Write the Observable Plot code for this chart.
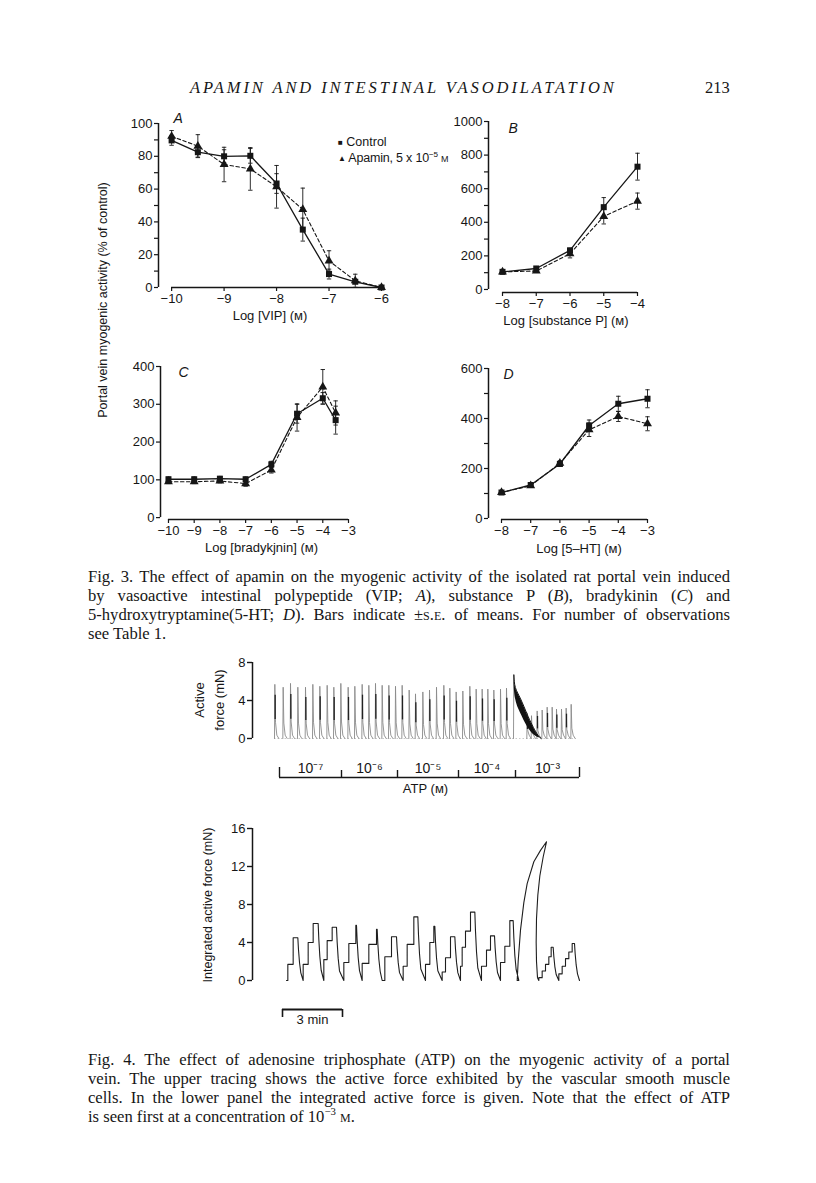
<!DOCTYPE html>
<html><head><meta charset="utf-8">
<script src="https://cdn.jsdelivr.net/npm/d3@7"></script>
<script src="https://cdn.jsdelivr.net/npm/@observablehq/plot@0.6"></script>
<style>
body{margin:0;background:#fff;}
#page{position:relative;width:816px;height:1183px;background:#fff;overflow:hidden;color:#161616;}
.abs{position:absolute;}
.serif{font-family:"Liberation Serif","DejaVu Serif",serif;}
.sans{font-family:"Liberation Sans",Arial,sans-serif;}
.cap{position:absolute;left:88px;width:642px;font-size:16.6px;line-height:19px;height:19px;text-align:justify;text-align-last:justify;white-space:nowrap;font-family:"Liberation Serif","DejaVu Serif",serif;}
.rot{position:absolute;transform:translate(-50%,-50%) rotate(-90deg);white-space:nowrap;font-family:"Liberation Sans",Arial,sans-serif;font-size:12.5px;line-height:20px;text-align:center;}
.sc{font-variant:small-caps;}
sup{font-size:0.65em;line-height:0;}
</style></head>
<body><div id="page"></div>
<script>
// ---------- Fig. 3 data ----------
const aX = [-10, -9.5, -9, -8.5, -8, -7.5, -7, -6.5, -6];
const aCtrl = [89.7, 82.5, 80, 80.3, 63.4, 35.3, 8.2, 3.5, 0];
const aCtrlErr = [3, 3, 4, 4.5, 6, 7, 3, 1, 0];
const aApa = [92.2, 86.2, 75, 72.3, 61.4, 47.6, 16.2, 4.1, 0];
const aApaErr = [3.5, 7, 10.5, 13, 13, 13, 6.2, 4, 0];

const bX = [-8, -7, -6, -5, -4];
const bCtrl = [105, 125, 233, 490, 731];
const bCtrlErr = [8, 8, 12, 57, 80];
const bApa = [105, 110, 213, 435, 526];
const bApaErr = [6, 8, 25, 45, 48];

const cX = [-10, -9, -8, -7, -6, -5, -4, -3.5];
const cCtrl = [101.5, 101.5, 103, 101.5, 141, 275, 316, 258];
const cCtrlErr = [6, 6, 6, 6, 8, 25, 15, 37];
const cApa = [95, 95, 97, 90, 126, 265, 346, 277];
const cApaErr = [5, 5, 5, 7, 8, 36, 46, 32];

const dX = [-8, -7, -6, -5, -4, -3];
const dCtrl = [104, 134, 218, 372, 459, 479];
const dCtrlErr = [5, 6, 10, 22, 30, 36];
const dApa = [104, 131, 221, 355, 408, 379];
const dApaErr = [5, 6, 10, 27, 20, 28];

// ---------- Fig. 4 data (time in s) ----------
const atpSpikeT = [1,26,48,70,93,115,136,158,178,199,221,241,263,283,303,323,343,363,383,404,423,445,465,486,508,526,545,565,586,605,623,640,658,678,696,718,758,771,788,803,818,833,846,861,875,890];
const atpSpikeH = [5.7,5.4,5.8,5.4,5.4,5.7,5.5,5.6,5.4,5.8,5.4,5.5,5.7,5.6,5.8,5.6,5.6,5.5,5.6,5.1,4.7,4.9,5.1,5.4,5.6,5.3,4.9,5.0,5.5,5.2,5.2,5.2,5.1,5.2,5.3,6.7,2.7,2.4,2.9,3.0,3.3,3.3,3.1,3.1,3.2,3.6];
const atpBandT = [718, 720, 738, 758, 773, 788, 800];
const atpBandHi = [6.7, 5.3, 4.3, 2.5, 1.4, 0.4, 0];
const atpBandLo = [6.7, 4.0, 2.7, 1.2, 0.5, 0.1, 0];
const atpConcEdges = [15, 201, 369, 552, 723, 915];
const atpConcLabels = ["10⁻⁷", "10⁻⁶", "10⁻⁵", "10⁻⁴", "10⁻³"];

const intStepT = [[40,56],[86,101,116],[148,158,173],[208,223,244],[263,283,306],[331,351],[386,398,418],[453,466,478],[503,513,528],[558,563,573,588],[621,636,648],[678,691,706],[],[793,803,813,823,830],[853,863,873,883,893]];
const intStepV = [[1.7,4.5],[1.7,4.0,6.0],[2.2,4.2,5.6],[1.9,3.9,5.8],[1.8,3.8,5.4],[2.5,4.6],[1.5,3.8,6.7],[1.7,4.0,5.7],[0.9,2.4,4.6],[1.5,3.5,5.2,7.2],[1.5,3.2,4.7],[1.9,3.6,6.3],[],[0.3,1.0,1.7,2.5,3.5],[0.7,1.5,2.3,3.0,3.9]];
const intTopEnd = [70,131,186,246,308,366,430,481,541,601,660,716,null,836,900];
const intDropEnd = [86,148,208,263,323,386,453,503,558,621,678,733,null,853,915];
const bigT = [728,731,738,748,758,778,798,816,806,796,790,786,785,786,789,793];
const bigV = [0,2,5.3,8.2,10.2,12.5,13.7,14.6,13,11,9,6.5,4,2,0.3,0];

const ink = "#161616";
const page = document.getElementById("page");
function place(node, left, top) {
  const w = document.createElement("div");
  w.className = "abs"; w.style.left = left + "px"; w.style.top = top + "px";
  w.appendChild(node); page.appendChild(w);
}
function html(str, left, top, cls, extra) {
  const d = document.createElement("div");
  d.className = cls || "abs";
  d.style.left = left + "px"; d.style.top = top + "px";
  if (extra) Object.assign(d.style, extra);
  d.innerHTML = str; page.appendChild(d);
  return d;
}
const fmtMinus = d => (d < 0 ? "\u2212" + Math.abs(d) : String(d));
const capSym = {draw(ctx, size) { const r = Math.sqrt(size / Math.PI); ctx.moveTo(-r, 0); ctx.lineTo(r, 0); }};
const baseStyle = {fontFamily: "'Liberation Sans', Arial, sans-serif", fontSize: "13px", color: ink, background: "transparent", overflow: "visible"};

function doseResponse(o) {
  const ctrl = o.x.map((x, i) => ({x, y: o.ctrl[i], e: o.ctrlErr[i]}));
  const apa = o.x.map((x, i) => ({x, y: o.apa[i], e: o.apaErr[i]}));
  const errMarks = d => {
    const f = d.filter(p => p.e > 0);
    return [
      Plot.ruleX(f, {x: "x", y1: p => p.y - p.e, y2: p => p.y + p.e, stroke: ink, strokeWidth: 0.9}),
      Plot.dot(f, {x: "x", y: p => p.y + p.e, symbol: capSym, r: 2.2, fill: "none", stroke: ink, strokeWidth: 0.9}),
      Plot.dot(f, {x: "x", y: p => p.y - p.e, symbol: capSym, r: 2.2, fill: "none", stroke: ink, strokeWidth: 0.9})
    ];
  };
  const xt = o.xTicks;
  return Plot.plot({
    width: o.width, height: o.height,
    marginLeft: o.m[0], marginRight: o.m[1], marginTop: o.m[2], marginBottom: o.m[3],
    x: {domain: o.xDomain, axis: null},
    y: {domain: o.yDomain, axis: null},
    style: baseStyle,
    marks: [
      Plot.ruleX([o.xDomain[0]], {y1: 0, y2: o.yTicks[o.yTicks.length - 1], stroke: ink, strokeWidth: 1.5}),
      Plot.ruleY([o.yDomain[0]], {x1: xt[0], x2: xt[xt.length - 1], stroke: ink, strokeWidth: 1.5}),
      Plot.axisY(o.yMinor, {label: null, tickSize: 4, tickFormat: () => "", stroke: ink, strokeWidth: 1.2}),
      Plot.axisY(o.yTicks, {label: null, tickSize: 4, tickPadding: 2, tickFormat: d => String(d), stroke: ink, strokeWidth: 1.2, fill: ink}),
      Plot.axisX(xt, {label: null, tickSize: 4, tickPadding: 2, tickFormat: fmtMinus, stroke: ink, strokeWidth: 1.2, fill: ink}),
      ...errMarks(ctrl), ...errMarks(apa),
      Plot.line(ctrl, {x: "x", y: "y", stroke: ink, strokeWidth: 1.3}),
      Plot.line(apa, {x: "x", y: "y", stroke: ink, strokeWidth: 1.1, strokeDasharray: "3.5,2.5"}),
      Plot.dot(ctrl, {x: "x", y: "y", symbol: "square", r: 3.4, fill: ink, stroke: null}),
      Plot.dot(apa, {x: "x", y: "y", symbol: "triangle", r: 3.3, fill: ink, stroke: null}),
      Plot.text([o.letter], {text: d => d, frameAnchor: "top-left", dx: o.letterD[0], dy: o.letterD[1], fontStyle: "italic", fontSize: 14, fill: ink}),
      Plot.text([o.label], {text: d => d, frameAnchor: "bottom", dx: o.labelD[0], dy: o.labelD[1], fontSize: 13, fill: ink})
    ]
  });
}

place(doseResponse({x: aX, ctrl: aCtrl, ctrlErr: aCtrlErr, apa: aApa, apaErr: aApaErr,
  width: 310, height: 230, m: [68, 19, 23, 43], xDomain: [-10.25, -6], yDomain: [0, 100],
  yTicks: [0, 20, 40, 60, 80, 100], yMinor: [10, 30, 50, 70, 90], xTicks: [-10, -9, -8, -7, -6],
  letter: "A", letterD: [15, -10], label: "Log [VIP] (ᴍ)", labelD: [0, 32]}), 90, 100);

place(doseResponse({x: bX, ctrl: bCtrl, ctrlErr: bCtrlErr, apa: bApa, apaErr: bApaErr,
  width: 250, height: 235, m: [68, 33, 21, 43], xDomain: [-8.415, -4], yDomain: [-18, 1000],
  yTicks: [0, 200, 400, 600, 800, 1000], yMinor: [100, 300, 500, 700, 900], xTicks: [-8, -7, -6, -5, -4],
  letter: "B", letterD: [20, 2], label: "Log [substance P] (ᴍ)", labelD: [3, 32]}), 420, 100);

place(doseResponse({x: cX, ctrl: cCtrl, ctrlErr: cCtrlErr, apa: cApa, apaErr: cApaErr,
  width: 300, height: 220, m: [70, 42, 21, 46], xDomain: [-10.31, -3], yDomain: [-5, 400],
  yTicks: [0, 100, 200, 300, 400], yMinor: [], xTicks: [-10, -9, -8, -7, -6, -5, -4, -3],
  letter: "C", letterD: [18, 1], label: "Log [bradykjnin] (ᴍ)", labelD: [7, 32]}), 90, 345);

place(doseResponse({x: dX, ctrl: dCtrl, ctrlErr: dCtrlErr, apa: dApa, apaErr: dApaErr,
  width: 250, height: 220, m: [68, 23, 23, 46], xDomain: [-8.445, -3], yDomain: [-4, 600],
  yTicks: [0, 200, 400, 600], yMinor: [100, 300, 500], xTicks: [-8, -7, -6, -5, -4, -3],
  letter: "D", letterD: [15, 1], label: "Log [5\u2013HT] (ᴍ)", labelD: [11, 33]}), 420, 345);

// ---------- Fig. 4 upper: active force ----------
const tDomain = [-66, 915];
const spikeLines = [];
atpSpikeT.forEach((t, i) => {
  const h = atpSpikeH[i];
  if (i === 35) { spikeLines.push({t: t - 1, v: 0, k: i}, {t, v: h, k: i}, {t: t + 2, v: 5.3, k: i}); return; }
  spikeLines.push({t: t - 1, v: 0, k: i}, {t, v: h, k: i}, {t: t + 2, v: h * 0.3, k: i}, {t: t + 6, v: 0.35, k: i}, {t: t + 12, v: 0, k: i});
});
const darkSeg = atpSpikeT.map((t, i) => ({t: t + 1, v1: atpSpikeH[i] * 0.35, v2: atpSpikeH[i] * 0.8, i})).filter(d => d.i !== 35 && d.i % 2 === 0);
const band = atpBandT.map((t, i) => ({t, hi: atpBandHi[i], lo: atpBandLo[i]}));

place(Plot.plot({
  width: 420, height: 100, marginLeft: 72, marginRight: 21, marginTop: 17, marginBottom: 7,
  x: {domain: tDomain, axis: null}, y: {domain: [0, 8], axis: null}, style: baseStyle,
  marks: [
    Plot.ruleX([tDomain[0]], {y1: 0, y2: 8, stroke: ink, strokeWidth: 1.5}),
    Plot.axisY([0, 4, 8], {label: null, tickSize: 5, tickPadding: 2, tickFormat: d => String(d), stroke: ink, strokeWidth: 1.4, fill: ink}),
    Plot.ruleY([0], {x1: 0, x2: 905, stroke: "#bbb", strokeWidth: 0.8, strokeDasharray: "1.5,2"}),
    Plot.line(spikeLines, {x: "t", y: "v", z: "k", stroke: "#8a8a8a", strokeWidth: 0.9}),
    Plot.ruleX(darkSeg, {x: "t", y1: "v1", y2: "v2", stroke: "#222", strokeWidth: 1.3}),
    Plot.areaY(band, {x: "t", y1: "lo", y2: "hi", fill: "#111", curve: "basis"}),
    Plot.line(band, {x: "t", y: "hi", stroke: "#111", strokeWidth: 1, curve: "basis"})
  ]
}), 180, 645);

// concentration bracket
const concMid = atpConcLabels.map((l, i) => ({t: (atpConcEdges[i] + atpConcEdges[i + 1]) / 2, l}));
place(Plot.plot({
  width: 420, height: 45, marginLeft: 72, marginRight: 21, marginTop: 0, marginBottom: 0,
  x: {domain: tDomain, axis: null}, y: {domain: [0, 1], range: [22, 12], axis: null}, style: baseStyle,
  marks: [
    Plot.ruleY([0], {x1: atpConcEdges[0], x2: atpConcEdges[atpConcEdges.length - 1], stroke: ink, strokeWidth: 1.6}),
    Plot.ruleX(atpConcEdges, {y1: 0, y2: (d, i) => (i === 0 || i === atpConcEdges.length - 1) ? 1 : 0.7, stroke: ink, strokeWidth: 1.4}),
    Plot.text(concMid, {x: "t", y: 0, dy: -9, text: "l", fontSize: 14, fill: ink}),
    Plot.text(["ATP (ᴍ)"], {x: 453, y: 0, dy: 11, text: d => d, fontSize: 13, fill: ink})
  ]
}), 180, 755);

// ---------- Fig. 4 lower: integrated force ----------
const intPts = [{t: 36, v: 0}];
intStepT.forEach((steps, c) => {
  if (steps.length === 0) { bigT.forEach((t, i) => intPts.push({t, v: bigV[i]})); return; }
  let prev = 0;
  steps.forEach((t, j) => { intPts.push({t, v: prev}); prev = intStepV[c][j]; intPts.push({t, v: prev}); });
  const top = intTopEnd[c], end = intDropEnd[c], p = prev;
  intPts.push({t: top, v: p}, {t: top + 2, v: p * 0.72}, {t: top + 5, v: p * 0.42}, {t: top + 9, v: p * 0.18}, {t: end, v: 0});
});
place(Plot.plot({
  width: 420, height: 185, marginLeft: 72, marginRight: 21, marginTop: 23, marginBottom: 10,
  x: {domain: tDomain, axis: null}, y: {domain: [0, 16], axis: null}, style: baseStyle,
  marks: [
    Plot.ruleX([tDomain[0]], {y1: 0, y2: 16, stroke: ink, strokeWidth: 1.5}),
    Plot.axisY([0, 4, 8, 12, 16], {label: null, tickSize: 5, tickPadding: 2, tickFormat: d => String(d), stroke: ink, strokeWidth: 1.4, fill: ink}),
    Plot.line(intPts, {x: "t", y: "v", stroke: "#1e1e1e", strokeWidth: 1.1, curve: "linear"})
  ]
}), 180, 805);

// 3 min scale bar
const scaleBar = [24, 204];
place(Plot.plot({
  width: 420, height: 35, marginLeft: 72, marginRight: 21, marginTop: 0, marginBottom: 0,
  x: {domain: tDomain, axis: null}, y: {domain: [0, 1], range: [22, 14], axis: null}, style: baseStyle,
  marks: [
    Plot.ruleY([1], {x1: scaleBar[0], x2: scaleBar[1], stroke: ink, strokeWidth: 1.8}),
    Plot.ruleX(scaleBar, {y1: 0, y2: 1, stroke: ink, strokeWidth: 1.6}),
    Plot.text(["3 min"], {x: (scaleBar[0] + scaleBar[1]) / 2, y: 0, dy: 2, text: d => d, fontSize: 13, fill: ink})
  ]
}), 180, 995);

// ---------- text ----------
html("APAMIN AND INTESTINAL VASODILATATION", 190, 78, "abs serif", {fontStyle: "italic", fontSize: "16.5px", letterSpacing: "2.9px", lineHeight: "20px", whiteSpace: "nowrap"});
html("213", 705, 78, "abs serif", {fontSize: "16.5px", lineHeight: "20px"});

html("Portal vein myogenic activity (% of control)", 103, 300, "rot");
html("Active<br>force (mN)", 210, 700, "rot", {fontSize: "13px"});
html("Integrated active force (mN)", 208, 905, "rot");

html('<span style="font-size:8px;position:relative;top:-1px">■</span> Control', 338, 133, "abs sans", {fontSize: "12.5px", lineHeight: "18px", whiteSpace: "nowrap"});
html('<span style="font-size:8px;position:relative;top:-1px">▲</span> Apamin, 5 x 10<sup>−5</sup> <span style="font-size:9px">M</span>', 338, 149, "abs sans", {fontSize: "12.5px", lineHeight: "18px", whiteSpace: "nowrap", letterSpacing: "-0.2px"});

const cap3 = [
  "Fig. 3. The effect of apamin on the myogenic activity of the isolated rat portal vein induced",
  "by vasoactive intestinal polypeptide (VIP; <i>A</i>), substance P (<i>B</i>), bradykinin (<i>C</i>) and",
  "5-hydroxytryptamine(5-HT; <i>D</i>). Bars indicate ±<span class=\"sc\">s.e.</span> of means. For number of observations",
  "see Table 1."
];
cap3.forEach((l, i) => html(l, 88, 567 + i * 19, "cap", i === 3 ? {textAlignLast: "left"} : null));
const cap4 = [
  "Fig. 4. The effect of adenosine triphosphate (ATP) on the myogenic activity of a portal",
  "vein. The upper tracing shows the active force exhibited by the vascular smooth muscle",
  "cells. In the lower panel the integrated active force is given. Note that the effect of ATP",
  "is seen first at a concentration of 10<sup>−3</sup> <span class=\"sc\">m</span>."
];
cap4.forEach((l, i) => html(l, 88, 1050 + i * 19, "cap", i === 3 ? {textAlignLast: "left"} : null));
</script>
</body></html>
